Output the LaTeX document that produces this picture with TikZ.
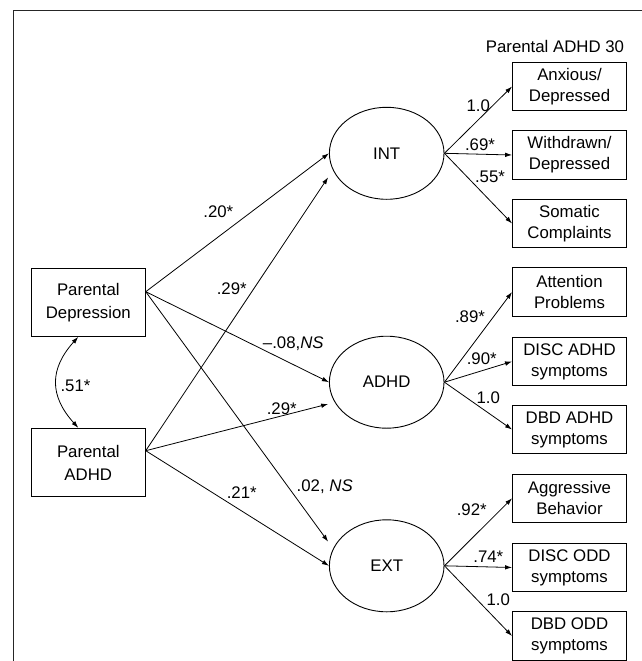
\documentclass[tikz,border=0pt]{standalone}
\usepackage{fontspec}
\setmainfont{Liberation Sans}
\usetikzlibrary{shapes.geometric,arrows.meta,calc}
\begin{document}
\begin{tikzpicture}[x=1pt,y=-1pt,
  font=\fontsize{16.8}{21}\selectfont,
  ind/.style={draw, line width=0.9pt, minimum width=114pt, minimum height=48.5pt, inner sep=0pt, align=center},
  src/.style={draw, line width=0.9pt, minimum width=114pt, minimum height=68.4pt, inner sep=0pt, align=center, font=\fontsize{16.8}{23}\selectfont},
  lat/.style={draw, ellipse, line width=0.9pt, minimum width=114.6pt, minimum height=92pt, inner sep=0pt},
  lnk/.style={line width=0.8pt, -{Latex[length=7pt,width=4.6pt]}},
  lbl/.style={inner sep=0pt}
]
\useasboundingbox (0,0) rectangle (641,661);
\draw[line width=1.2pt, black!85] (13.3,662) -- (13.3,10.5) -- (642,10.5);

% sources
\node[src] (PD) at (88.3,302.2) {Parental\\Depression};
\node[src] (PA) at (88.3,462.5) {Parental\\ADHD};

% latent factors
\node[lat] (INT) at (386.7,153.3) {INT};
\node[lat] (ADHD) at (386.7,382.2) {ADHD};
\node[lat] (EXT) at (386.7,565.8) {EXT};

% indicators
\node[lbl] (title) at (555,46.7) {Parental ADHD 30};
\node[ind] (anx) at (569.5,86.5) {Anxious/\\Depressed};
\node[ind] (wd) at (569.5,155) {Withdrawn/\\Depressed};
\node[ind] (som) at (569.5,223.5) {Somatic\\Complaints};
\node[ind] (att) at (569.5,292) {Attention\\Problems};
\node[ind] (discadhd) at (569.5,361.5) {DISC ADHD\\symptoms};
\node[ind] (dbdadhd) at (569.5,429.5) {DBD ADHD\\symptoms};
\node[ind] (agg) at (569.5,498.3) {Aggressive\\Behavior};
\node[ind] (discodd) at (569.5,567.5) {DISC ODD\\symptoms};
\node[ind] (dbdodd) at (569.5,636) {DBD ODD\\symptoms};

% connector ends
\coordinate (PDo) at ($(PD.east)+(0,-10.5)$);
\coordinate (PAo) at ($(PA.east)+(0,-11.8)$);
\coordinate (INTb) at ($(INT.west)+(-0.8,24)$);
\coordinate (ADHDb) at ($(ADHD.west)+(-0.8,21.8)$);
\coordinate (EXTa) at ($(EXT.west)+(-0.8,-24.1)$);

% structural paths
\draw[lnk] (PDo) -- (INT.west);
\draw[lnk] (PAo) -- (INTb);
\draw[lnk] (PDo) -- (ADHD.west);
\draw[lnk] (PAo) -- (ADHDb);
\draw[lnk] (PDo) -- (EXTa);
\draw[lnk] (PAo) -- (EXT.west);

% covariance
\draw[line width=0.8pt, {Latex[length=7pt,width=4.6pt]}-{Latex[length=7pt,width=4.6pt]}]
  ($(PD.south)+(-10,0)$) .. controls +(-29,32) and +(-29,-32) .. ($(PA.north)+(-10,0)$);

% loadings
\draw[lnk] (INT.east) -- (anx.west);
\draw[lnk] (INT.east) -- (wd.west);
\draw[lnk] (INT.east) -- (som.west);
\draw[lnk] (ADHD.east) -- (att.west);
\draw[lnk] (ADHD.east) -- (discadhd.west);
\draw[lnk] (ADHD.east) -- (dbdadhd.west);
\draw[lnk] (EXT.east) -- (agg.west);
\draw[lnk] (EXT.east) -- (discodd.west);
\draw[lnk] (EXT.east) -- (dbdodd.west);

% labels
\node[lbl] (l51) at (75.5,385.7) {.51*};
\node[lbl] (l20) at (218.3,211.7) {.20*};
\node[lbl] (l29a) at (231.7,288.3) {.29*};
\node[lbl] (l08) at (293.3,343.3) {\textendash.08,\textit{NS}};
\node[lbl] (l29b) at (281.7,408.3) {.29*};
\node[lbl] (l21) at (241.7,492.7) {.21*};
\node[lbl, anchor=west] (l02) at (296.5,487) {.02, \textit{NS}};
\node[lbl] (i1) at (478.3,106) {1.0};
\node[lbl] (i2) at (480,145) {.69*};
\node[lbl] (i3) at (490,176.7) {.55*};
\node[lbl] (a1) at (470,316.7) {.89*};
\node[lbl] (a2) at (481.7,358.3) {.90*};
\node[lbl] (a3) at (488.3,397.3) {1.0};
\node[lbl] (e1) at (471.7,510) {.92*};
\node[lbl] (e2) at (488.3,556.7) {.74*};
\node[lbl] (e3) at (498.3,600) {1.0};
\end{tikzpicture}
\end{document}
